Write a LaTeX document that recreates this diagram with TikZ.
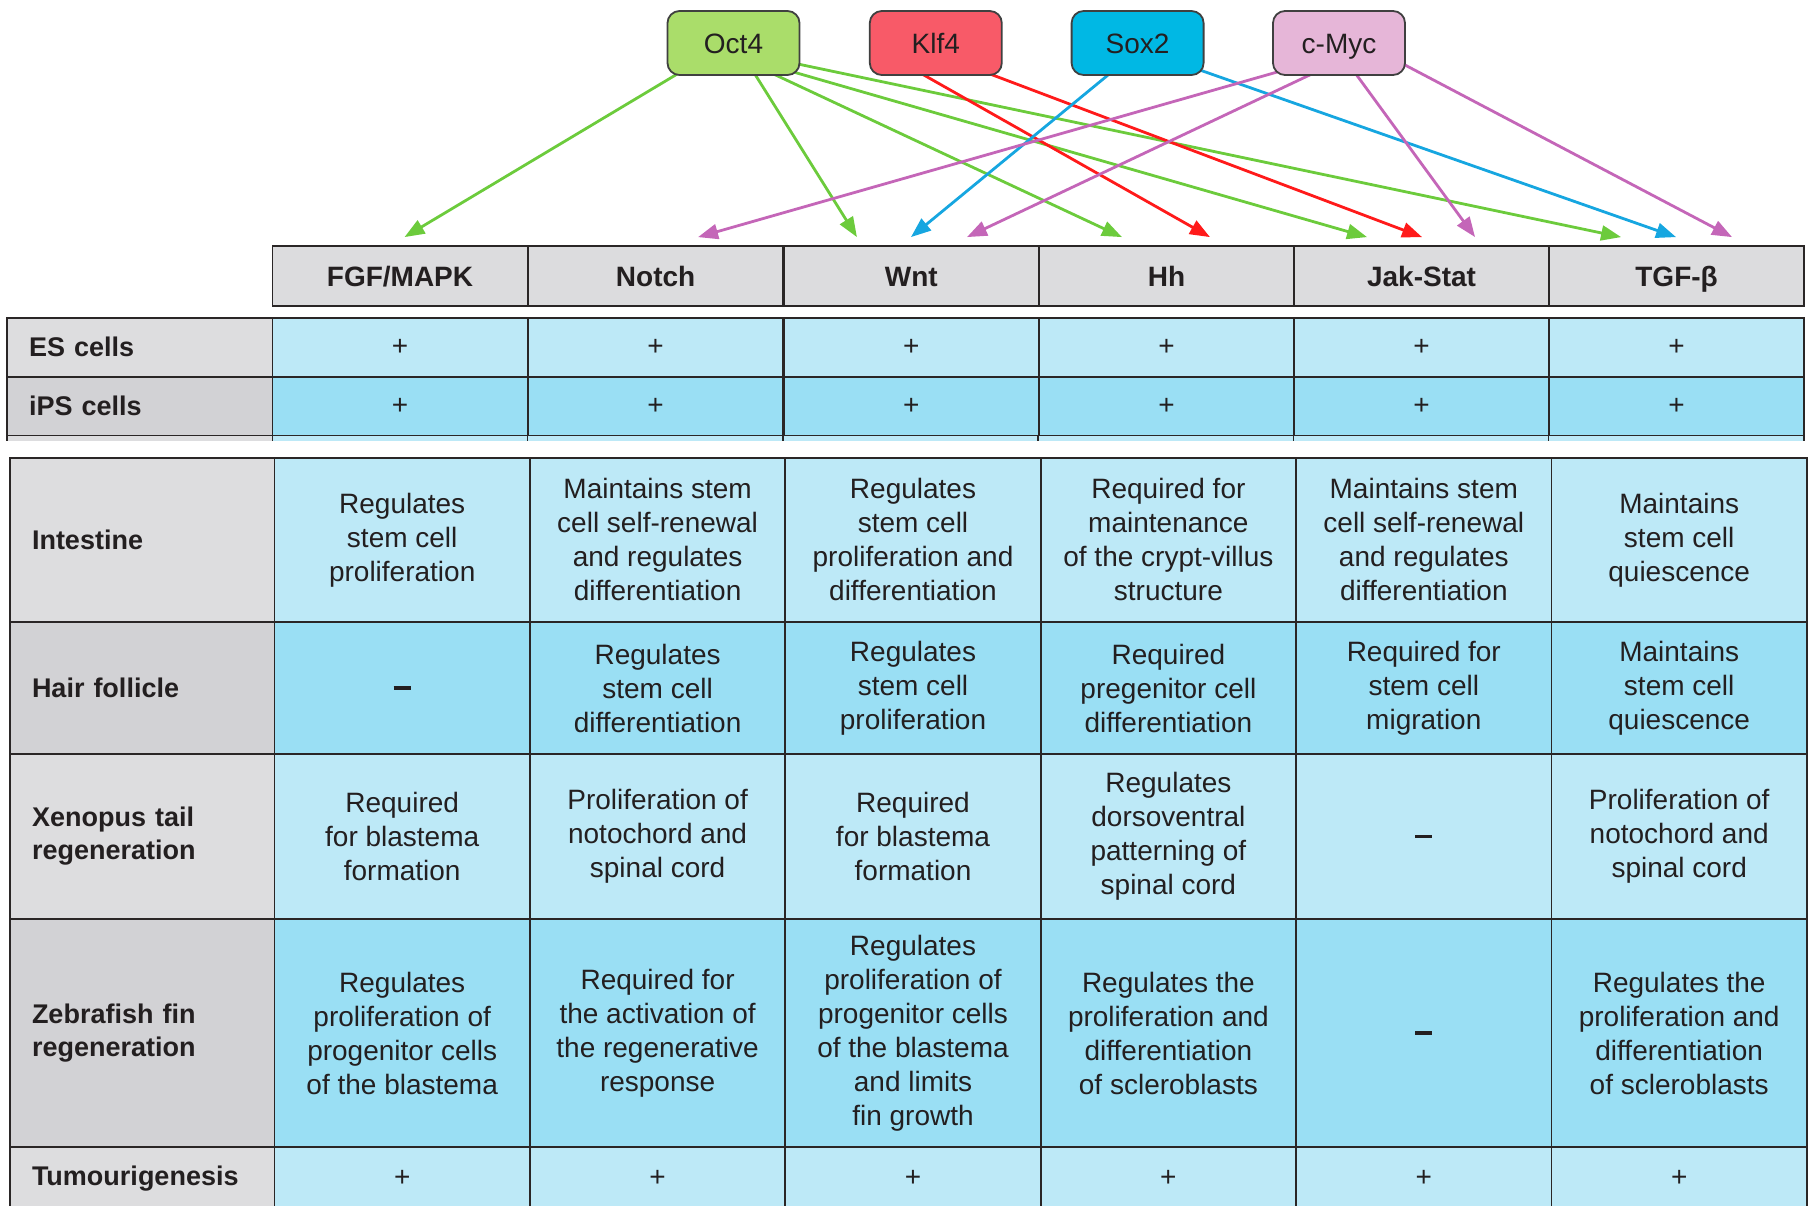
\documentclass[tikz,border=0pt]{standalone}
\usepackage{fontspec}
\setmainfont{Liberation Sans}
\usetikzlibrary{arrows.meta,backgrounds}

\definecolor{hdrgray}{HTML}{DCDCDE}
\definecolor{lblA}{HTML}{DDDDDF}
\definecolor{lblB}{HTML}{D2D2D5}
\definecolor{blueA}{HTML}{BDE9F7}
\definecolor{blueB}{HTML}{9ADFF4}
\definecolor{gridc}{HTML}{2A2626}
\definecolor{txtc}{HTML}{231F20}
\definecolor{octc}{HTML}{AADD6A}
\definecolor{klfc}{HTML}{F85A68}
\definecolor{soxc}{HTML}{00B8E4}
\definecolor{mycc}{HTML}{E6B6D8}
\definecolor{arG}{HTML}{6CCB3C}
\definecolor{arR}{HTML}{FF1A1A}
\definecolor{arB}{HTML}{16A6E0}
\definecolor{arP}{HTML}{C466B8}

\newcommand{\nodash}{\rule{17pt}{3.6pt}}

\tikzset{
  tfbox/.style={draw=black!75, line width=1.8pt, rounded corners=12pt,
    minimum width=132pt, minimum height=64pt, inner sep=0pt,
    text height=20pt, text depth=0pt,
    text=txtc, font=\fontsize{28}{34}\selectfont},
  cellbox/.style={draw=gridc, line width=1.8pt, inner sep=0pt, align=center,
    text=txtc, font=\fontsize{28}{34}\selectfont},
  hdrbox/.style={cellbox, fill=hdrgray, font=\bfseries\fontsize{28}{34}\selectfont,
    text height=20pt, text depth=0pt,
    minimum width=255.1pt, minimum height=60pt},
  rowA/.style={cellbox, fill=blueA, minimum width=255.1pt, minimum height=#1},
  rowB/.style={cellbox, fill=blueB, minimum width=255.1pt, minimum height=#1},
  rowC/.style={cellbox, fill=blueA, minimum width=255.4pt, minimum height=#1},
  rowD/.style={cellbox, fill=blueB, minimum width=255.4pt, minimum height=#1},
  lblbox/.style={draw=gridc, line width=1.8pt, inner xsep=22pt, inner ysep=0pt,
    align=left, text=txtc, font=\bfseries\fontsize{27}{33}\selectfont},
  link/.style={line width=2.8pt, -{Triangle[length=20pt,width=15pt]}},
}

\begin{document}
\begin{tikzpicture}[x=1pt,y=-1pt]
\useasboundingbox (0,0) rectangle (1810,1205);
\clip (0,0) rectangle (1810,1205);

% ---------- transcription factors ----------
\node[tfbox, fill=octc] (oct4) at (733.5,43) {Oct4};
\node[tfbox, fill=klfc] (klf4) at (935.8,43) {Klf4};
\node[tfbox, fill=soxc] (sox2) at (1137.6,43) {Sox2};
\node[tfbox, fill=mycc] (cmyc) at (1339,43) {c-Myc};

% ---------- header ----------
\node[hdrbox] (hFGF)   at (400,276)     {FGF/MAPK};
\node[hdrbox] (hNotch) at (655.65,276)  {Notch};
\node[hdrbox] (hWnt)   at (911.35,276)  {Wnt};
\node[hdrbox] (hHh)    at (1166.45,276) {Hh};
\node[hdrbox] (hJak)   at (1421.55,276) {Jak-Stat};
\node[hdrbox] (hTGF)   at (1676.55,276) {TGF-β};

% ---------- ES / iPS block ----------
\fill[lblA] (7,435) rectangle (272.4,441);
\fill[blueA] (272.4,435) rectangle (1804,441);
\foreach \xx in {7,272.4,527.5,783.2,1038.3,1293.4,1548.5,1804}
  \draw[gridc, line width=1.8pt] (\xx,435) -- (\xx,441);

\node[lblbox, fill=lblA, text width=221.4pt, minimum height=59pt] (lES) at (139.7,347.2) {ES cells};
\node[lblbox, fill=lblB, text width=221.4pt, minimum height=58.8pt] (lIPS) at (139.7,406.1) {iPS cells};
\foreach \cx/\nm in {400/a,655.65/b,911.35/c,1166.45/d,1421.55/e,1676.55/f}{
  \node[rowA=59pt] (es\nm) at (\cx,347.2) {+};
  \node[rowB=58.8pt] (ips\nm) at (\cx,406.1) {+};
}

% ---------- main block ----------
\node[lblbox, fill=lblA, text width=220.5pt, minimum height=164.3pt] (lInt) at (142.25,539.85) {Intestine};
\node[lblbox, fill=lblB, text width=220.5pt, minimum height=132pt] (lHair) at (142.25,688) {Hair follicle};
\node[lblbox, fill=lblA, text width=220.5pt, minimum height=165pt] (lXen) at (142.25,836.5) {Xenopus tail\\regeneration};
\node[lblbox, fill=lblB, text width=220.5pt, minimum height=228pt] (lZeb) at (142.25,1033) {Zebrafish fin\\regeneration};
\node[lblbox, fill=lblA, text width=220.5pt, minimum height=63pt] (lTum) at (142.25,1178.5) {Tumourigenesis};

% Intestine
\node[rowC=164.3pt] (int1) at (402.2,539.85)  {Regulates\\stem cell\\proliferation};
\node[rowC=164.3pt] (int2) at (657.6,539.85)  {Maintains stem\\cell self-renewal\\and regulates\\differentiation};
\node[rowC=164.3pt] (int3) at (913.0,539.85)  {Regulates\\stem cell\\proliferation and\\differentiation};
\node[rowC=164.3pt] (int4) at (1168.4,539.85) {Required for\\maintenance\\of the crypt-villus\\structure};
\node[rowC=164.3pt] (int5) at (1423.8,539.85) {Maintains stem\\cell self-renewal\\and regulates\\differentiation};
\node[rowC=164.3pt] (int6) at (1679.2,539.85) {Maintains\\stem cell\\quiescence};

% Hair follicle
\node[rowD=132pt] (hai1) at (402.2,688)  {\nodash};
\node[rowD=132pt] (hai2) at (657.6,688)  {Regulates\\stem cell\\differentiation};
\node[rowD=132pt] (hai3) at (913.0,688)  {Regulates\\stem cell\\proliferation};
\node[rowD=132pt] (hai4) at (1168.4,688) {Required\\pregenitor cell\\differentiation};
\node[rowD=132pt] (hai5) at (1423.8,688) {Required for\\stem cell\\migration};
\node[rowD=132pt] (hai6) at (1679.2,688) {Maintains\\stem cell\\quiescence};

% Xenopus
\node[rowC=165pt] (xen1) at (402.2,836.5)  {Required\\for blastema\\formation};
\node[rowC=165pt] (xen2) at (657.6,836.5)  {Proliferation of\\notochord and\\spinal cord};
\node[rowC=165pt] (xen3) at (913.0,836.5)  {Required\\for blastema\\formation};
\node[rowC=165pt] (xen4) at (1168.4,836.5) {Regulates\\dorsoventral\\patterning of\\spinal cord};
\node[rowC=165pt] (xen5) at (1423.8,836.5) {\nodash};
\node[rowC=165pt] (xen6) at (1679.2,836.5) {Proliferation of\\notochord and\\spinal cord};

% Zebrafish
\node[rowD=228pt] (zeb1) at (402.2,1033)  {Regulates\\proliferation of\\progenitor cells\\of the blastema};
\node[rowD=228pt] (zeb2) at (657.6,1033)  {Required for\\the activation of\\the regenerative\\response};
\node[rowD=228pt] (zeb3) at (913.0,1033)  {Regulates\\proliferation of\\progenitor cells\\of the blastema\\and limits\\fin growth};
\node[rowD=228pt] (zeb4) at (1168.4,1033) {Regulates the\\proliferation and\\differentiation\\of scleroblasts};
\node[rowD=228pt] (zeb5) at (1423.8,1033) {\nodash};
\node[rowD=228pt] (zeb6) at (1679.2,1033) {Regulates the\\proliferation and\\differentiation\\of scleroblasts};

% Tumourigenesis
\foreach \cx/\nm in {402.2/a,657.6/b,913.0/c,1168.4/d,1423.8/e,1679.2/f}
  \node[rowC=63pt] (tum\nm) at (\cx,1178.5) {+};

% ---------- arrow targets ----------
\coordinate (tFGF)  at ([xshift=4.5pt,yshift=8pt]hFGF.north);
\coordinate (tNotP) at ([xshift=42.4pt,yshift=8pt]hNotch.north);
\coordinate (tWntG) at ([xshift=-54.4pt,yshift=8pt]hWnt.north);
\coordinate (tWntB) at ([xshift=-0.4pt,yshift=8pt]hWnt.north);
\coordinate (tWntP) at ([xshift=55.6pt,yshift=8pt]hWnt.north);
\coordinate (tHhG)  at ([xshift=-44.5pt,yshift=8pt]hHh.north);
\coordinate (tHhR)  at ([xshift=43.5pt,yshift=8pt]hHh.north);
\coordinate (tJakG) at ([xshift=-54.5pt,yshift=8pt]hJak.north);
\coordinate (tJakR) at ([xshift=0.5pt,yshift=8pt]hJak.north);
\coordinate (tJakP) at ([xshift=53.5pt,yshift=8pt]hJak.north);
\coordinate (tTgfG) at ([xshift=-55.5pt,yshift=8pt]hTGF.north);
\coordinate (tTgfB) at ([xshift=-0.5pt,yshift=8pt]hTGF.north);
\coordinate (tTgfP) at ([xshift=55.5pt,yshift=8pt]hTGF.north);

% ---------- arrows ----------
\begin{pgfonlayer}{background}
\draw[link, arG] ([xshift=12.5pt,yshift=3pt]oct4.south west)  -- (tFGF);
\draw[link, arG] ([xshift=87.5pt,yshift=3pt]oct4.south west)  -- (tWntG);
\draw[link, arG] ([xshift=104.5pt,yshift=3pt]oct4.south west) -- (tHhG);
\draw[link, arG] ([xshift=123pt,yshift=5pt]oct4.south west)   -- (tJakG);
\draw[link, arG] ([xshift=-3pt,yshift=12pt]oct4.south east)   -- (tTgfG);
\draw[link, arR] ([xshift=51.2pt,yshift=3pt]klf4.south west)  -- (tHhR);
\draw[link, arR] ([xshift=118.2pt,yshift=3pt]klf4.south west) -- (tJakR);
\draw[link, arB] ([xshift=39.9pt,yshift=3pt]sox2.south west)  -- (tWntB);
\draw[link, arB] ([xshift=-5pt,yshift=6pt]sox2.south east)    -- (tTgfB);
\draw[link, arP] ([xshift=9pt,yshift=5pt]cmyc.south west)     -- (tNotP);
\draw[link, arP] ([xshift=42pt,yshift=3pt]cmyc.south west)    -- (tWntP);
\draw[link, arP] ([xshift=83pt,yshift=3pt]cmyc.south west)    -- (tJakP);
\draw[link, arP] ([xshift=-3pt,yshift=12pt]cmyc.south east)   -- (tTgfP);
\end{pgfonlayer}
\end{tikzpicture}
\end{document}
